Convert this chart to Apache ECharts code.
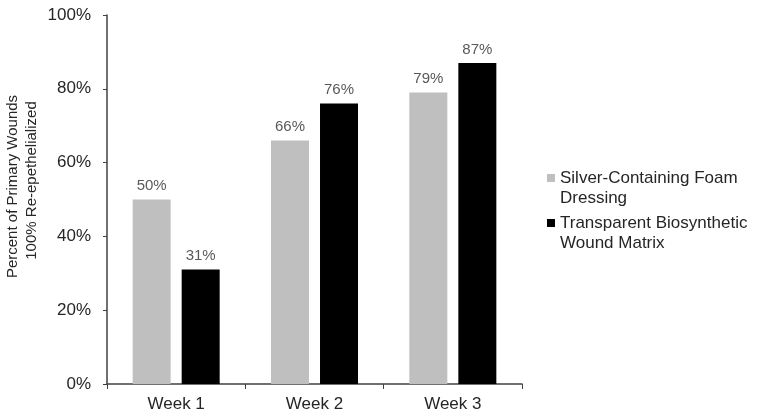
<!DOCTYPE html>
<html>
<head>
<meta charset="utf-8">
<script src="https://cdn.jsdelivr.net/npm/echarts@6/dist/echarts.min.js"></script>
<style>
  html, body { margin: 0; padding: 0; background: #fff; }
  #chart { width: 760px; height: 419px; }
</style>
</head>
<body>
<div id="chart"></div>
<script>
const weeks = ['Week 1', 'Week 2', 'Week 3']
const silverFoam = [50, 66, 79]
const biosynthetic = [31, 76, 87]
const seriesNames = ['Silver-Containing Foam\nDressing', 'Transparent Biosynthetic\nWound Matrix']

const chart = echarts.init(document.getElementById('chart'))
const font = '"Liberation Sans", Arial, sans-serif'
const axisColor = '#404040'

const barLabel = {
  show: true,
  position: 'top',
  distance: 6,
  color: '#595959',
  fontSize: 15,
  fontFamily: font,
  formatter: '{c}%'
}

// square on top, invisible point at the bottom so the marker lines up with the first text line
const legendIcon = 'path://M0,0L8,0L8,8L0,8Z M0,28L8,28Z'

chart.setOption({
  backgroundColor: '#fff',
  animation: false,
  grid: {
    left: 107,
    right: 238,
    top: 15,
    bottom: 35,
    outerBoundsMode: 'none'
  },
  legend: {
    orient: 'vertical',
    left: 547,
    top: 168,
    padding: 0,
    itemWidth: 8,
    itemHeight: 28,
    itemGap: 5,
    icon: legendIcon,
    textStyle: {
      fontFamily: font,
      fontSize: 17,
      color: '#262626',
      lineHeight: 20
    },
    data: seriesNames
  },
  xAxis: {
    type: 'category',
    data: weeks,
    axisLine: { lineStyle: { color: axisColor, width: 1.5 } },
    axisTick: { show: true, length: 5, lineStyle: { color: axisColor } },
    axisLabel: {
      color: '#262626',
      fontSize: 17,
      fontFamily: font,
      margin: 12
    }
  },
  yAxis: {
    type: 'value',
    min: 0,
    max: 100,
    interval: 20,
    // empty rich blocks in front push the rotated title up a bit
    name: '{g1|}Percent of Primary Wounds\n{g2|}100% Re-epethelialized',
    nameLocation: 'middle',
    nameGap: 66,
    nameMoveOverlap: false,
    nameTextStyle: {
      color: '#262626',
      fontSize: 15,
      fontFamily: font,
      lineHeight: 19,
      rich: {
        g1: { width: 26 },
        g2: { width: 38 }
      }
    },
    splitLine: { show: false },
    axisLine: { show: true, lineStyle: { color: axisColor, width: 1.5 } },
    axisTick: { show: true, length: 4, lineStyle: { color: axisColor } },
    axisLabel: {
      color: '#262626',
      fontSize: 17,
      fontFamily: font,
      margin: 16,
      formatter: '{value}%'
    }
  },
  series: [
    {
      name: seriesNames[0],
      type: 'bar',
      data: silverFoam,
      barWidth: 38,
      barGap: '29%',
      itemStyle: { color: '#bfbfbf' },
      label: barLabel
    },
    {
      name: seriesNames[1],
      type: 'bar',
      data: biosynthetic,
      barWidth: 38,
      itemStyle: { color: '#000000' },
      label: barLabel
    }
  ]
})
</script>
</body>
</html>
